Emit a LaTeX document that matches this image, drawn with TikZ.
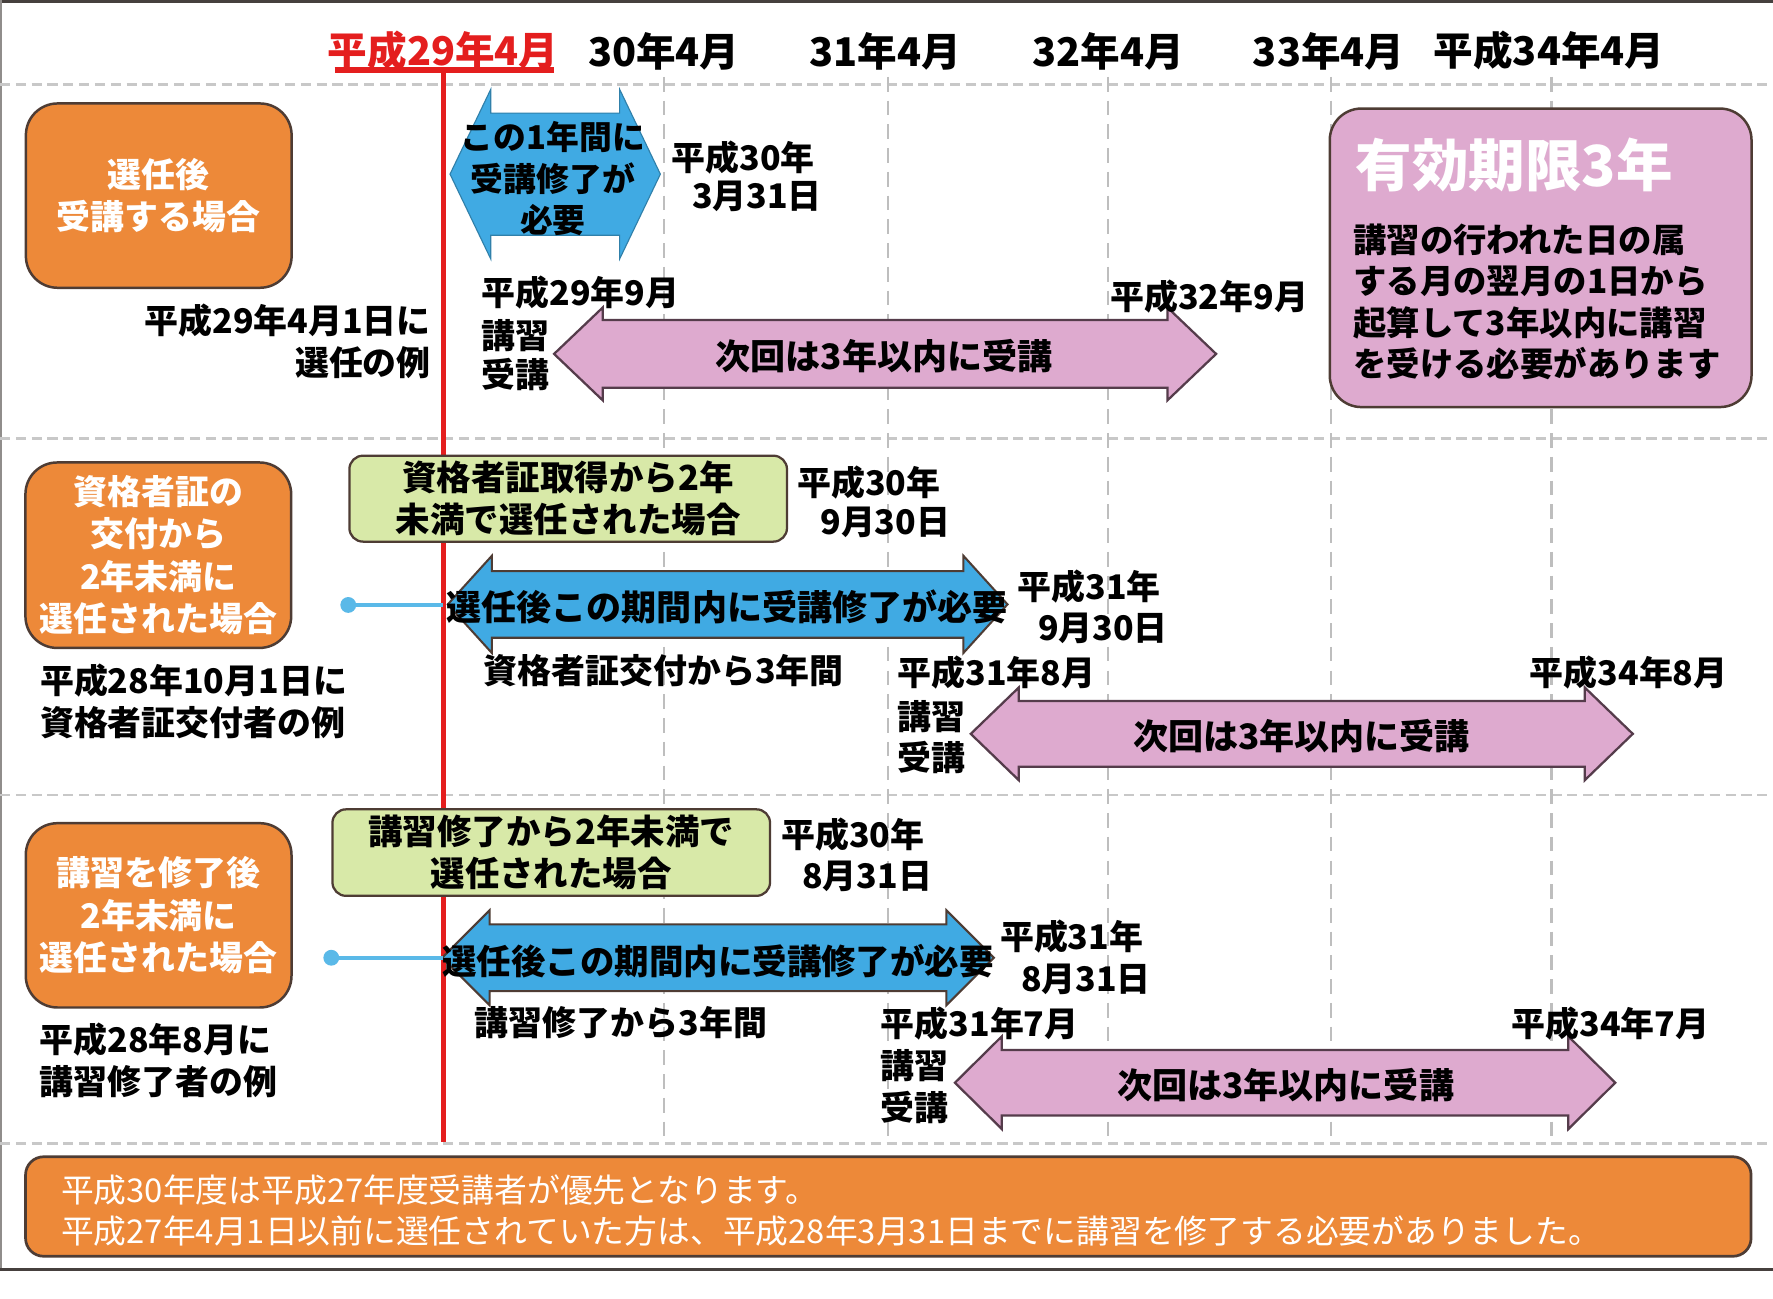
\documentclass[tikz,border=0pt]{standalone}
\usepackage{fontspec}
\setmainfont{Noto Sans CJK JP}
\newcommand\myfs[2]{\fontsize{#1}{#2}\selectfont}
\newcommand\myDArrow[7]{%
  \path[#1] (#2,#4) -- ({#2+#7},{#4-#6}) -- ({#2+#7},{#4-#5}) -- ({#3-#7},{#4-#5})
    -- ({#3-#7},{#4-#6}) -- (#3,#4) -- ({#3-#7},{#4+#6}) -- ({#3-#7},{#4+#5})
    -- ({#2+#7},{#4+#5}) -- ({#2+#7},{#4+#6}) -- cycle;}
\definecolor{orng}{RGB}{237,137,57}
\definecolor{brd}{RGB}{78,60,52}
\definecolor{pnk}{RGB}{222,170,207}
\definecolor{pbrd}{RGB}{85,60,75}
\definecolor{blu}{RGB}{64,170,227}
\definecolor{grn}{RGB}{216,233,168}
\definecolor{redl}{RGB}{228,30,30}
\definecolor{dgray}{RGB}{200,200,200}
\definecolor{vgray}{RGB}{190,190,190}
\definecolor{lblue}{RGB}{90,185,232}
\definecolor{frame}{RGB}{70,64,62}
\begin{document}
\begin{tikzpicture}[x=1pt,y=-1pt,
  every node/.style={inner sep=0pt, outer sep=0pt},
  txt/.style={font=\bfseries\myfs{30}{37}, text=black, align=left},
  ctxt/.style={font=\bfseries\myfs{30}{37}, text=black, align=center},
  hdr/.style={font=\bfseries\myfs{35}{40}, text=black},
  obox/.style={draw=brd, line width=2.2pt, fill=orng, rounded corners=28pt,
     font=\bfseries\myfs{30}{37.5}, text=white, align=center},
  gbox/.style={draw=brd, line width=2pt, fill=grn, rounded corners=12pt,
     font=\bfseries\myfs{30.5}{37}, text=black, align=center},
  pbox/.style={draw=brd, line width=2.2pt, fill=pnk, rounded corners=28pt},
  nbox/.style={draw=brd, line width=2.4pt, fill=orng, rounded corners=16pt},
  parr/.style={draw=pbrd, line width=2pt, fill=pnk},
  barr/.style={draw=brd, line width=1.8pt, fill=blu},
  barrA/.style={draw=blu!75!black, line width=1pt, fill=blu},
  hdash/.style={draw=dgray, line width=2.5pt, dash pattern=on 9pt off 5pt},
  vdash/.style={draw=vgray, line width=2pt, dash pattern=on 13pt off 8pt},
  dot/.style={circle, fill=lblue, minimum size=14pt},
  link/.style={draw=lblue, line width=3.6pt}
]
% canvas
\fill[white] (0,0) rectangle (1568,1148);
\useasboundingbox (0,0) rectangle (1568,1148);
% frame
\draw[frame, line width=3pt] (0,1.5) -- (1568,1.5);
\draw[frame!60, line width=1.2pt] (1,0) -- (1,1123);
\draw[frame, line width=2.5pt] (0,1123) -- (1568,1123);

% grid
\foreach \yy in {75,388,703,1011} \draw[hdash] (0,\yy) -- (1568,\yy);
\foreach \xx in {587,785,980,1177,1372} \draw[vdash] (\xx,68) -- (\xx,1011);

% ---------- red time line
\coordinate (rtop) at (392,62);
\coordinate (rbot) at (392,1010);
\draw[redl, line width=4pt] (rtop) -- (rbot);
\draw[redl, line width=5pt] (296,62) -- (490,62);

% header
\node[hdr, text=redl] (h0) at (392,45) {平成29年4月};
\node[hdr] (h1) at (587,45) {30年4月};
\node[hdr] (h2) at (783,45) {31年4月};
\node[hdr] (h3) at (980,45) {32年4月};
\node[hdr] (h4) at (1175,45) {33年4月};
\node[hdr] (h5) at (1370,45) {平成34年4月};

% ---------- row 1
\node[obox, minimum width=235pt, minimum height=163pt] (b1) at (140.4,173) {選任後\\受講する場合};
\myDArrow{barrA}{398}{584}{154}{54}{75}{36}
\node[ctxt, font=\bfseries\myfs{29}{37}] (a1t) at (489,158) {この1年間に\\受講修了が\\必要};
\node[txt, anchor=west] (d1a) at (594,139) {平成30年};
\node[txt, anchor=west] (d1b) at (612,174) {3月31日};
\node[txt, anchor=east, align=right] (ex1) at (381,301.5) {平成29年4月1日に\\選任の例};
\node[txt, anchor=west] (k1a) at (426,259) {平成29年9月};
\node[txt, anchor=west] (k1b) at (426,297) {講習};
\node[txt, anchor=west] (k1c) at (426,331) {受講};
\myDArrow{parr}{490}{1075.5}{313}{30}{41}{43}
\node[ctxt, font=\bfseries\myfs{31}{37}] (p1t) at (782,315) {次回は3年以内に受講};
\node[txt, anchor=west] (e1) at (982,262) {平成32年9月};
\node[pbox, minimum width=373pt, minimum height=264pt] (vb) at (1362.5,228) {};
\node[font=\bfseries\myfs{50}{56}, text=white, anchor=west] (vt) at (1199,146) {有効期限3年};
\node[txt, anchor=west, font=\bfseries\myfs{29.5}{36.5}] (vx) at (1197,267) {講習の行われた日の属\\する月の翌月の1日から\\起算して3年以内に講習\\を受ける必要があります};

% ---------- row 2
\node[obox, minimum width=235pt, minimum height=164pt] (b2) at (140,491) {資格者証の\\交付から\\2年未満に\\選任された場合};
\node[txt, anchor=west] (ex2) at (35.5,620.5) {平成28年10月1日に\\資格者証交付者の例};
\node[gbox, minimum width=387pt, minimum height=76pt] (g2) at (502.5,441) {資格者証取得から2年\\未満で選任された場合};
\node[txt, anchor=west] (d2a) at (705,427) {平成30年};
\node[txt, anchor=west] (d2b) at (725.5,462) {9月30日};
\myDArrow{barr}{396}{891}{534.5}{29.5}{43}{39}
\node[dot] (dt2) at (308,535) {};
\coordinate (r2) at (392,535);
\draw[link] (dt2.center) -- (r2);
\node[ctxt, font=\bfseries\myfs{31}{37}] (a2t) at (643,537) {選任後この期間内に受講修了が必要};
\node[txt, anchor=west] (d2c) at (900,518.5) {平成31年};
\node[txt, anchor=west] (d2d) at (918,556) {9月30日};
\node[txt, anchor=west] (s2) at (428,593) {資格者証交付から3年間};
\node[txt, anchor=west] (k2a) at (794,595) {平成31年8月};
\node[txt, anchor=west] (k2b) at (794,634) {講習};
\node[txt, anchor=west] (k2c) at (794,670) {受講};
\myDArrow{parr}{858.5}{1444}{649}{29}{41}{42.5}
\node[ctxt, font=\bfseries\myfs{31}{37}] (p2t) at (1151,651) {次回は3年以内に受講};
\node[txt, anchor=west] (e2) at (1353,595) {平成34年8月};

% ---------- row 3
\node[obox, minimum width=235pt, minimum height=163pt] (b3) at (140.3,809.5) {講習を修了後\\2年未満に\\選任された場合};
\node[txt, anchor=west] (ex3) at (35,938) {平成28年8月に\\講習修了者の例};
\node[gbox, minimum width=387pt, minimum height=76.5pt] (g3) at (487.5,754) {講習修了から2年未満で\\選任された場合};
\node[txt, anchor=west] (d3a) at (691,738) {平成30年};
\node[txt, anchor=west] (d3b) at (709.5,775) {8月31日};
\myDArrow{barr}{391}{879}{847}{29.5}{42}{42}
\node[dot] (dt3) at (293,847) {};
\coordinate (r3) at (392,847);
\draw[link] (dt3.center) -- (r3);
\node[ctxt, font=\bfseries\myfs{30.5}{37}] (a3t) at (635,850) {選任後この期間内に受講修了が必要};
\node[txt, anchor=west] (d3c) at (884.5,828) {平成31年};
\node[txt, anchor=west] (d3d) at (903,866) {8月31日};
\node[txt, anchor=west] (s3) at (420,904) {講習修了から3年間};
\node[txt, anchor=west] (k3a) at (779,905) {平成31年7月};
\node[txt, anchor=west] (k3b) at (779,942) {講習};
\node[txt, anchor=west] (k3c) at (779,979) {受講};
\myDArrow{parr}{844.5}{1428.5}{957.5}{29}{41}{41.5}
\node[ctxt, font=\bfseries\myfs{31}{37}] (p3t) at (1137,960) {次回は3年以内に受講};
\node[txt, anchor=west] (e3) at (1337,905) {平成34年7月};

% ---------- note
\node[nbox, minimum width=1526pt, minimum height=88pt, anchor=north west] (nb) at (22.6,1023) {};
\node[font=\myfs{29}{36.5}, text=white, align=left, anchor=west] (nt) at (54,1070.5)
  {平成30年度は平成27年度受講者が優先となります。\\平成27年4月1日以前に選任されていた方は、平成28年3月31日までに講習を修了する必要がありました。};
\end{tikzpicture}
\end{document}
